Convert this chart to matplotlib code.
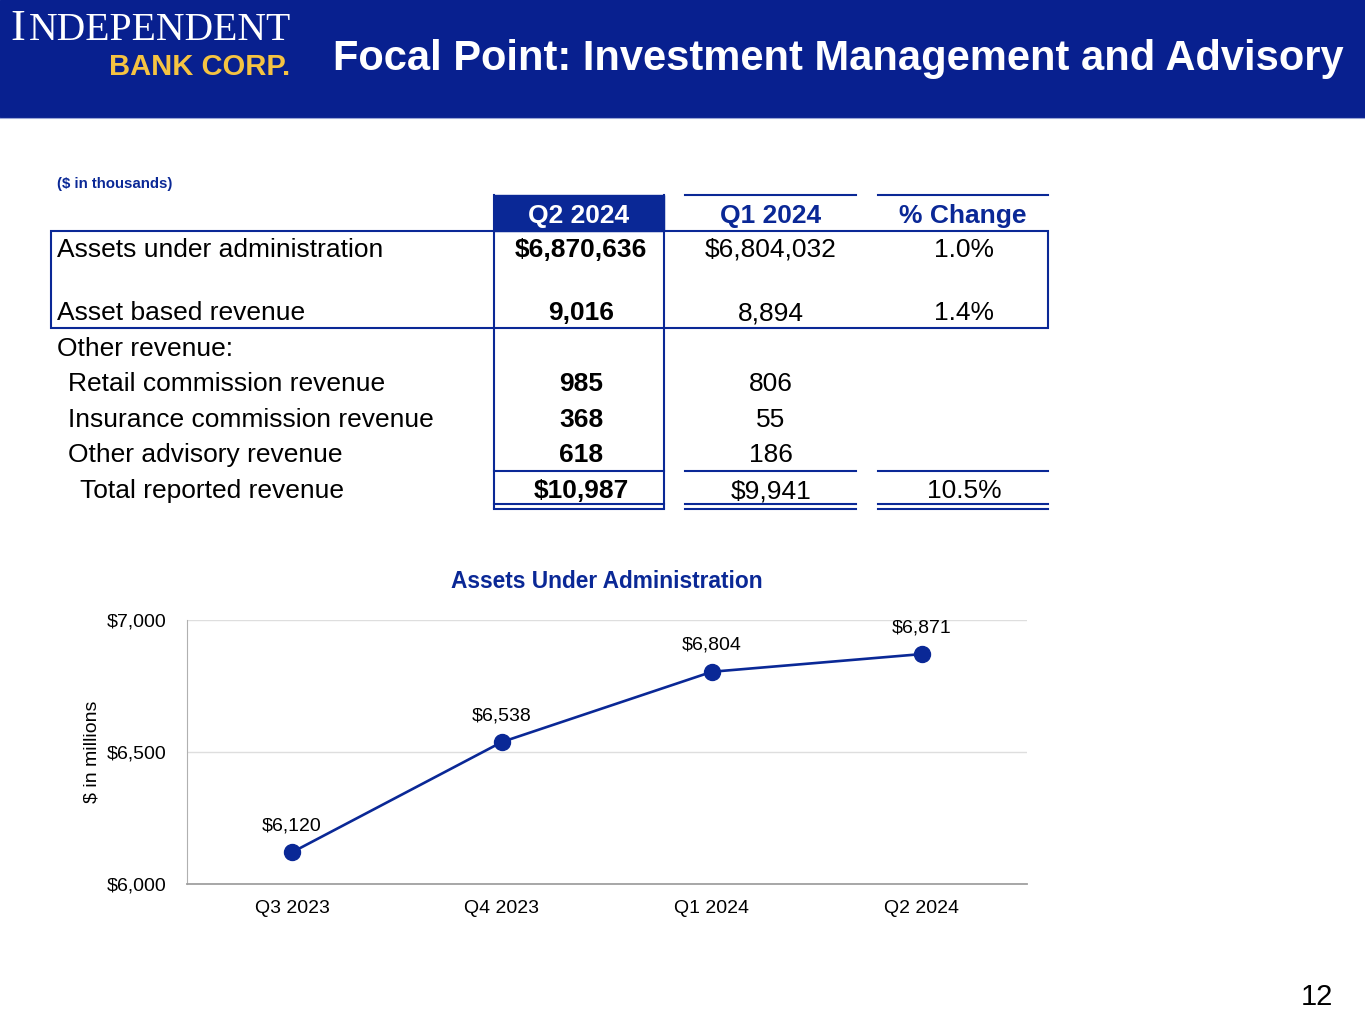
import matplotlib.pyplot as plt
from matplotlib.patches import Rectangle

plt.rcParams['font.family'] = ['Liberation Sans', 'DejaVu Sans']

NAVY = '#0A2896'
HEADER_BG = '#08208F'
GOLD = '#F5C342'

# table data ($ in thousands)
row_labels = ['Assets under administration', 'Asset based revenue', 'Other revenue:',
              'Retail commission revenue', 'Insurance commission revenue',
              'Other advisory revenue', 'Total reported revenue']
q2_vals = ['$6,870,636', '9,016', '', '985', '368', '618', '$10,987']
q1_vals = ['$6,804,032', '8,894', '', '806', '55', '186', '$9,941']
pct_vals = ['1.0%', '1.4%', '', '', '', '', '10.5%']
col_heads = ['Q2 2024', 'Q1 2024', '% Change']

# chart data ($ in millions)
quarters = ['Q3 2023', 'Q4 2023', 'Q1 2024', 'Q2 2024']
aua = [6120, 6538, 6804, 6871]

fig = plt.figure(figsize=(13.65, 10.24), dpi=100)
bg = fig.add_axes([0, 0, 1, 1])
bg.set_xlim(0, 1365)
bg.set_ylim(1024, 0)
bg.axis('off')

# header band
bg.add_patch(Rectangle((0, 0), 1365, 117, color=HEADER_BG, zorder=0))
bg.plot([0, 1365], [117.5, 117.5], color='#9aa6d6', lw=0.8)
bg.text(10, 40, 'I', family='Liberation Serif', fontsize=32, color='white', va='baseline')
bg.text(29, 40, 'NDEPENDENT', family='Liberation Serif', fontsize=28.5, color='white', va='baseline')
bg.text(290, 75, 'BANK CORP.', fontsize=21, fontweight='bold', color=GOLD, va='baseline', ha='right')
bg.text(333, 59, 'Focal Point: Investment Management and Advisory', fontsize=30,
        fontweight='bold', color='white', va='center')

# table
bg.text(57, 184, '($ in thousands)', fontsize=10.8, fontweight='bold', color=NAVY, va='center')

col_x = [(494, 664), (685, 856), (878, 1048)]
val_cx = [581, 771, 964]
fs = 19

# header row
bg.add_patch(Rectangle((494, 195), 170, 36, color=NAVY, zorder=1))
for (x0, x1) in col_x[1:]:
    bg.plot([x0, x1], [195, 195], color=NAVY, lw=1.5)
for i, h in enumerate(col_heads):
    bg.text((col_x[i][0] + col_x[i][1]) / 2, 222.5, h, fontsize=fs, fontweight='bold',
            color='white' if i == 0 else NAVY, ha='center', va='baseline')

# box around first two rows
bg.add_patch(Rectangle((51, 231), 997, 97, fill=False, ec=NAVY, lw=1.5, zorder=2))
# Q2 column box
bg.plot([494, 494], [195, 508], color=NAVY, lw=1.5)
bg.plot([664, 664], [195, 508], color=NAVY, lw=1.5)

row_base = [257, 320, 356, 391, 427, 462, 498]
indent = [57, 57, 57, 68, 68, 68, 80]
for i, lab in enumerate(row_labels):
    yb = row_base[i]
    bg.text(indent[i], yb, lab, fontsize=fs, color='black', va='baseline')
    bg.text(val_cx[0], yb, q2_vals[i], fontsize=fs, fontweight='bold', ha='center', va='baseline')
    bg.text(val_cx[1], yb, q1_vals[i], fontsize=fs, ha='center', va='baseline')
    bg.text(val_cx[2], yb, pct_vals[i], fontsize=fs, ha='center', va='baseline')

for (x0, x1) in col_x:
    bg.plot([x0, x1], [470.5, 470.5], color=NAVY, lw=1.5)
    bg.plot([x0, x1], [504, 504], color=NAVY, lw=1.5)
    bg.plot([x0, x1], [508.5, 508.5], color=NAVY, lw=1.5)

# page number
bg.text(1333, 997, '12', fontsize=21, ha='right', va='center')

# line chart
ax = fig.add_axes([187 / 1365, 140 / 1024, 840 / 1365, 264 / 1024])
x = list(range(len(quarters)))
ax.plot(x, aua, color=NAVY, lw=1.9, marker='o', markersize=11.5, zorder=3)
for xi, v in zip(x, aua):
    ax.annotate(f'${v:,}', (xi, v), xytext=(0, 19), textcoords='offset points',
                ha='center', va='center', fontsize=14)
ax.set_xlim(-0.5, 3.5)
ax.set_ylim(6000, 7000)
ax.set_yticks([6000, 6500, 7000])
ax.set_yticklabels(['$6,000', '$6,500', '$7,000'])
ax.set_xticks(x)
ax.set_xticklabels(quarters)
ax.tick_params(length=0, labelsize=14)
ax.tick_params(axis='x', pad=11.5)
ax.tick_params(axis='y', pad=15)
ax.grid(axis='y', color='#dedede', lw=1)
ax.set_axisbelow(True)
for s in ['top', 'right']:
    ax.spines[s].set_visible(False)
ax.spines['left'].set_color('#b0b0b0')
ax.spines['bottom'].set_color('#a0a0a0')
ax.spines['bottom'].set_linewidth(1.3)
ax.set_ylabel('$ in millions', fontsize=14, labelpad=4)
ax.set_title('Assets Under Administration', fontsize=16.4, fontweight='bold', color=NAVY, pad=23)

fig.savefig('out.png', dpi=100)
